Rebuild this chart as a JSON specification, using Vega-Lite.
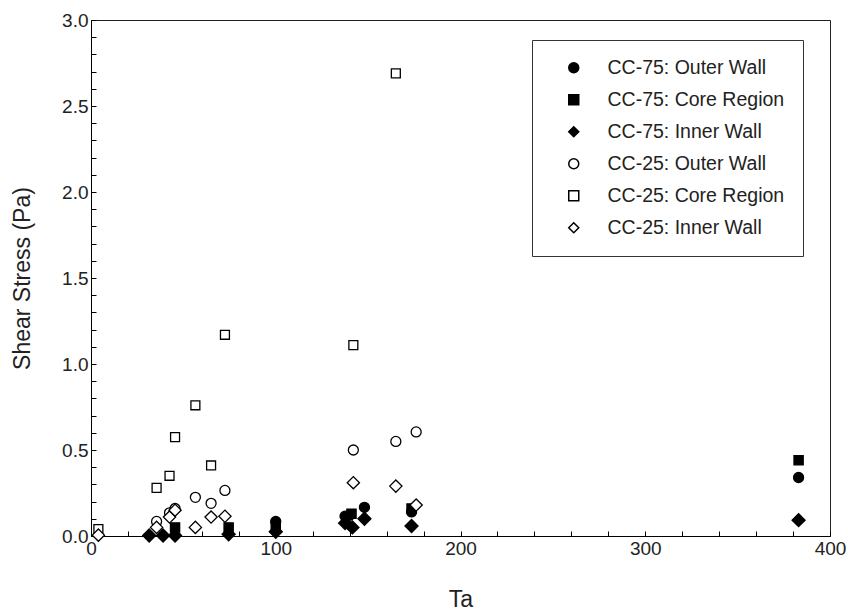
{
  "$schema": "https://vega.github.io/schema/vega-lite/v6.json",
  "autosize": {"type": "none"},
  "width": 739,
  "height": 516,
  "padding": {"left": 91, "top": 20, "right": 18, "bottom": 75},
  "background": "white",
  "config": {
    "view": {"stroke": "#222", "strokeWidth": 1},
    "font": "Liberation Sans",
    "axis": {
      "grid": false,
      "domainColor": "#000",
      "tickColor": "#000",
      "labelColor": "#222",
      "titleColor": "#222",
      "labelFont": "Liberation Sans",
      "titleFont": "Liberation Sans",
      "labelFontSize": 19,
      "titleFontSize": 23,
      "titleFontWeight": "normal"
    },
    "legend": {
      "labelFont": "Liberation Sans",
      "labelFontSize": 19.5,
      "labelColor": "#222",
      "labelLimit": 400
    }
  },
  "data": {
    "values": [
      {"series": "CC-75: Outer Wall", "Ta": 100, "stress": 0.085},
      {"series": "CC-75: Outer Wall", "Ta": 137.5, "stress": 0.115},
      {"series": "CC-75: Outer Wall", "Ta": 140, "stress": 0.12},
      {"series": "CC-75: Outer Wall", "Ta": 148, "stress": 0.167},
      {"series": "CC-75: Outer Wall", "Ta": 173.5, "stress": 0.14},
      {"series": "CC-75: Outer Wall", "Ta": 383, "stress": 0.34},
      {"series": "CC-75: Core Region", "Ta": 45.5, "stress": 0.05},
      {"series": "CC-75: Core Region", "Ta": 74.5, "stress": 0.05},
      {"series": "CC-75: Core Region", "Ta": 100, "stress": 0.06},
      {"series": "CC-75: Core Region", "Ta": 141, "stress": 0.13},
      {"series": "CC-75: Core Region", "Ta": 173.5, "stress": 0.16},
      {"series": "CC-75: Core Region", "Ta": 383, "stress": 0.44},
      {"series": "CC-75: Inner Wall", "Ta": 31.5, "stress": 0.003},
      {"series": "CC-75: Inner Wall", "Ta": 39, "stress": 0.003},
      {"series": "CC-75: Inner Wall", "Ta": 45.5, "stress": 0.003},
      {"series": "CC-75: Inner Wall", "Ta": 74.5, "stress": 0.01},
      {"series": "CC-75: Inner Wall", "Ta": 100, "stress": 0.025},
      {"series": "CC-75: Inner Wall", "Ta": 137.5, "stress": 0.075},
      {"series": "CC-75: Inner Wall", "Ta": 141.5, "stress": 0.05},
      {"series": "CC-75: Inner Wall", "Ta": 148, "stress": 0.1},
      {"series": "CC-75: Inner Wall", "Ta": 173.5, "stress": 0.058},
      {"series": "CC-75: Inner Wall", "Ta": 383, "stress": 0.092},
      {"series": "CC-25: Outer Wall", "Ta": 35.5, "stress": 0.085},
      {"series": "CC-25: Outer Wall", "Ta": 42.5, "stress": 0.135},
      {"series": "CC-25: Outer Wall", "Ta": 45.5, "stress": 0.16},
      {"series": "CC-25: Outer Wall", "Ta": 56.5, "stress": 0.225},
      {"series": "CC-25: Outer Wall", "Ta": 65, "stress": 0.19},
      {"series": "CC-25: Outer Wall", "Ta": 72.5, "stress": 0.265},
      {"series": "CC-25: Outer Wall", "Ta": 142, "stress": 0.5},
      {"series": "CC-25: Outer Wall", "Ta": 165, "stress": 0.55},
      {"series": "CC-25: Outer Wall", "Ta": 176, "stress": 0.605},
      {"series": "CC-25: Core Region", "Ta": 4, "stress": 0.04},
      {"series": "CC-25: Core Region", "Ta": 35.5, "stress": 0.28},
      {"series": "CC-25: Core Region", "Ta": 42.5, "stress": 0.35},
      {"series": "CC-25: Core Region", "Ta": 45.5, "stress": 0.575},
      {"series": "CC-25: Core Region", "Ta": 56.5, "stress": 0.76},
      {"series": "CC-25: Core Region", "Ta": 65, "stress": 0.41},
      {"series": "CC-25: Core Region", "Ta": 72.5, "stress": 1.17},
      {"series": "CC-25: Core Region", "Ta": 142, "stress": 1.11},
      {"series": "CC-25: Core Region", "Ta": 165, "stress": 2.69},
      {"series": "CC-25: Inner Wall", "Ta": 4, "stress": 0.005},
      {"series": "CC-25: Inner Wall", "Ta": 35.5, "stress": 0.05},
      {"series": "CC-25: Inner Wall", "Ta": 42.5, "stress": 0.11},
      {"series": "CC-25: Inner Wall", "Ta": 45.5, "stress": 0.15},
      {"series": "CC-25: Inner Wall", "Ta": 56.5, "stress": 0.05},
      {"series": "CC-25: Inner Wall", "Ta": 65, "stress": 0.11},
      {"series": "CC-25: Inner Wall", "Ta": 72.5, "stress": 0.115},
      {"series": "CC-25: Inner Wall", "Ta": 142, "stress": 0.31},
      {"series": "CC-25: Inner Wall", "Ta": 165, "stress": 0.29},
      {"series": "CC-25: Inner Wall", "Ta": 176, "stress": 0.18}
    ]
  },
  "encoding": {
    "x": {
      "field": "Ta",
      "type": "quantitative",
      "title": "Ta",
      "scale": {"domain": [0, 400], "nice": false, "zero": true},
      "axis": {
        "values": [0,20,40,60,80,100,120,140,160,180,200,220,240,260,280,300,320,340,360,380,400],
        "labelExpr": "datum.value % 100 == 0 ? datum.label : ''",
        "tickSize": -5,
        "labelPadding": 8,
        "titlePadding": 30,
        "labelFlush": false,
        "labelOverlap": false
      }
    },
    "y": {
      "field": "stress",
      "type": "quantitative",
      "title": "Shear Stress (Pa)",
      "scale": {"domain": [0, 3], "nice": false},
      "axis": {
        "values": [0,0.1,0.2,0.3,0.4,0.5,0.6,0.7,0.8,0.9,1,1.1,1.2,1.3,1.4,1.5,1.6,1.7,1.8,1.9,2,2.1,2.2,2.3,2.4,2.5,2.6,2.7,2.8,2.9,3],
        "format": ".1f",
        "labelExpr": "round(datum.value * 10) % 5 == 0 ? datum.label : ''",
        "tickSize": -5,
        "labelPadding": 8,
        "titlePadding": 27,
        "labelFlush": false,
        "labelOverlap": false
      }
    },
    "shape": {
      "field": "series",
      "type": "nominal",
      "scale": {
        "domain": ["CC-75: Outer Wall", "CC-75: Core Region", "CC-75: Inner Wall", "CC-25: Outer Wall", "CC-25: Core Region", "CC-25: Inner Wall"],
        "range": ["circle", "square", "diamond", "circle", "square", "diamond"]
      },
      "legend": {
        "title": null,
        "orient": "none",
        "legendX": 441,
        "legendY": 20,
        "padding": 18,
        "strokeColor": "#333",
        "fillColor": "white",
        "symbolOffset": 14,
        "labelOffset": 24,
        "rowPadding": 11,
        "labelLimit": 400,
        "encode": {
          "symbols": {"update": {
            "stroke": {"value": "#000"},
            "strokeWidth": {"value": 1.2},
            "opacity": {"value": 1},
            "size": {"signal": "datum.value == 'CC-75: Inner Wall' ? 150 : (datum.value == 'CC-25: Inner Wall' ? 90 : (datum.value == 'CC-75: Outer Wall' ? 70 : 45))"}
          }}
        }
      }
    },
    "fill": {
      "field": "series",
      "type": "nominal",
      "scale": {
        "domain": ["CC-75: Outer Wall", "CC-75: Core Region", "CC-75: Inner Wall", "CC-25: Outer Wall", "CC-25: Core Region", "CC-25: Inner Wall"],
        "range": ["#000", "#000", "#000", "#fff", "#fff", "#fff"]
      }
    }
  },
  "layer": [
    {"transform": [{"filter": "datum.series == 'CC-75: Outer Wall'"}],
     "mark": {"type": "point", "filled": true, "stroke": "#000", "strokeWidth": 1.3, "opacity": 1, "clip": false, "size": 100}},
    {"transform": [{"filter": "datum.series == 'CC-75: Core Region'"}],
     "mark": {"type": "point", "filled": true, "stroke": "#000", "strokeWidth": 1.3, "opacity": 1, "clip": false, "size": 85}},
    {"transform": [{"filter": "datum.series == 'CC-75: Inner Wall'"}],
     "mark": {"type": "point", "filled": true, "stroke": "#000", "strokeWidth": 1.3, "opacity": 1, "clip": false, "size": 170}},
    {"transform": [{"filter": "datum.series == 'CC-25: Outer Wall'"}],
     "mark": {"type": "point", "filled": true, "stroke": "#000", "strokeWidth": 1.3, "opacity": 1, "clip": false, "size": 100}},
    {"transform": [{"filter": "datum.series == 'CC-25: Core Region'"}],
     "mark": {"type": "point", "filled": true, "stroke": "#000", "strokeWidth": 1.3, "opacity": 1, "clip": false, "size": 80}},
    {"transform": [{"filter": "datum.series == 'CC-25: Inner Wall'"}],
     "mark": {"type": "point", "filled": true, "stroke": "#000", "strokeWidth": 1.3, "opacity": 1, "clip": false, "size": 150}}
  ]
}
